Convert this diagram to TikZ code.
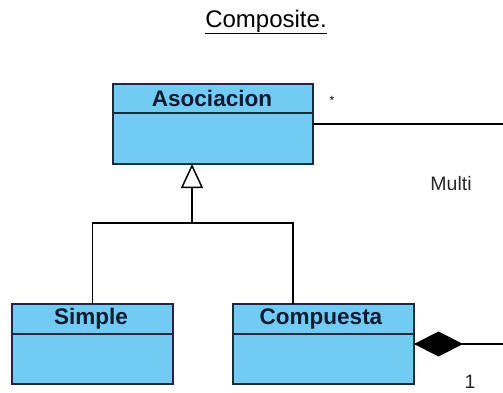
\documentclass[tikz,border=0pt]{standalone}
\usepackage{fontspec}
\setmainfont{Liberation Sans}
\usetikzlibrary{arrows.meta}
\definecolor{umlfill}{HTML}{72CBF2}
\definecolor{umlline}{HTML}{1B2A3F}
\definecolor{umltext}{HTML}{0D1B33}
\begin{document}
\begin{tikzpicture}[x=1pt,y=-1pt,
  classbox/.style={draw=umlline, fill=umlfill, line width=1.6pt, rectangle,
    minimum height=80pt, inner sep=0pt, outer sep=0pt, anchor=north west},
  classname/.style={text=umltext, font=\fontsize{22.5}{24}\selectfont\bfseries, inner sep=0pt},
  sepline/.style={draw=umlline, line width=1.6pt},
  link/.style={draw=black, line width=1.5pt},
  lbl/.style={font=\fontsize{19.5}{21}\selectfont, inner sep=0pt, text=black!85}
]
\useasboundingbox (0,0) rectangle (503,392);

% title
\node[font=\fontsize{24}{28}\selectfont, anchor=base, inner sep=0pt] (title) at (266,27) {\underline{Composite.}};

% classes
\node[classbox, minimum width=200pt] (asoc) at (113,84) {};
\draw[sepline] (asoc.west |- 0,113) -- (asoc.east |- 0,113);
\node[classname] (asocname) at (212,98.5) {Asociacion};

\node[classbox, minimum width=161pt] (simple) at (12,304) {};
\draw[sepline] (simple.west |- 0,334) -- (simple.east |- 0,334);
\node[classname] (simplename) at (91,319) {Simple};

\node[classbox, minimum width=181pt] (comp) at (233,304) {};
\draw[sepline] (comp.west |- 0,334) -- (comp.east |- 0,334);
\node[classname] (compname) at (321,319) {Compuesta};

% generalization
\coordinate (gjoin) at (192,223);
\coordinate (compTop) at (293,304);
\draw[link] (simple.north) |- (gjoin) -| (compTop);
\draw[link, -{Triangle[open, length=24pt, width=22pt, line width=1.5pt]}] (gjoin) -- (asoc.south -| gjoin);

% association
\coordinate (asocEnd) at (503,124);
\draw[link] (asoc.east |- asocEnd) -- (asocEnd);
\node[font=\fontsize{12}{12}\selectfont, inner sep=0pt] (star) at (332,100) {*};
\node[lbl] (multi) at (451,184) {Multi};

% composition
\coordinate (compEnd) at (503,344);
\draw[link, {Diamond[length=49pt, width=25pt]}-] (comp.east |- compEnd) -- (compEnd);
\node[lbl] (one) at (470,382) {1};
\end{tikzpicture}
\end{document}
